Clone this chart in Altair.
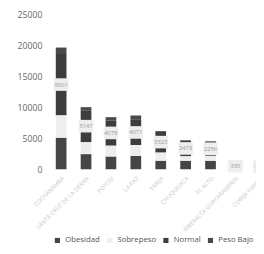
import altair as alt
import pandas as pd

categories = ["COCHABAMBA", "SANTA CRUZ DE LA SIERRA", "POTOSI", "LA PAZ", "TARIJA",
              "CHUQUISACA", "EL ALTO", "RIBERALTA GUAYARAMERIN", "COBIJA PANDO"]
series = ["Obesidad", "Sobrepeso", "Normal", "Peso Bajo"]
obesidad = [5100, 2450, 2070, 2160, 1380, 1380, 1380, 200, 180]
sobrepeso = [3650, 1950, 1770, 1760, 1350, 750, 814, 140, 120]
normal = [9901, 5147, 4078, 4071, 3323, 2478, 2256, 330, 290]
peso_bajo = [1040, 500, 510, 710, 140, 100, 100, 30, 20]
colors = ["#454545", "#eeeeee", "#3d3d3d", "#4a4a4a"]
y_ticks = [0, 5000, 10000, 15000, 20000, 25000]

values = [obesidad, sobrepeso, normal, peso_bajo]
rows = []
for si, s in enumerate(series):
    for ci, c in enumerate(categories):
        rows.append({"cat": c, "serie": s, "ord": si, "v": values[si][ci]})
df = pd.DataFrame(rows)

lab = pd.DataFrame({
    "cat": categories,
    "mid": [o + s + n / 2 for o, s, n in zip(obesidad, sobrepeso, normal)],
    "txt": [str(n) for n in normal],
})

FONT = "Open Sans"
xscale = alt.Scale(domain=categories, range=[0, 231.3], paddingInner=0.57, paddingOuter=0.285)
yscale = alt.Scale(domain=[0, 25000])
xaxis = alt.Axis(title=None, labelAngle=-45, labelAlign="right", labelBaseline="top",
                 labelFontSize=6, labelColor="#c8c8c8", domain=False, ticks=False,
                 labelPadding=6, labelFont=FONT, labelLimit=200)
yaxis = alt.Axis(title=None, values=y_ticks, format="d", labelOverlap=False,
                 grid=False, domain=False, ticks=False, labelFontSize=9,
                 labelColor="#666666", labelPadding=7, labelFont=FONT)

bars = alt.Chart(df).mark_bar().encode(
    x=alt.X("cat:N", scale=xscale, sort=categories, axis=xaxis, title=None),
    y=alt.Y("v:Q", stack="zero", scale=yscale, axis=yaxis, title=None),
    color=alt.Color("serie:N", scale=alt.Scale(domain=series, range=colors),
                    legend=alt.Legend(title=None, orient="none", direction="horizontal",
                                      legendX=5, legendY=229, symbolType="square",
                                      symbolSize=28, labelFontSize=8, labelColor="#555555",
                                      columnPadding=6, labelFont=FONT, symbolStrokeWidth=0)),
    order=alt.Order("ord:Q", sort="ascending"),
)

boxes = alt.Chart(lab).mark_tick(color="#eeeeee", thickness=13, size=15, opacity=1).encode(
    x=alt.X("cat:N", scale=xscale, sort=categories, axis=xaxis, title=None),
    y=alt.Y("mid:Q", scale=yscale, axis=yaxis, title=None),
)

texts = alt.Chart(lab).mark_text(fontSize=6, color="#9a9a9a", font=FONT).encode(
    x=alt.X("cat:N", scale=xscale, sort=categories, axis=xaxis, title=None),
    y=alt.Y("mid:Q", scale=yscale, axis=yaxis, title=None),
    text="txt:N",
)

chart = alt.layer(bars, boxes, texts).properties(
    width=214, height=159.5,
    autosize=alt.AutoSizeParams(type="none"),
    padding={"left": 42, "top": 3, "right": 0, "bottom": 83},
    background="white",
).configure_view(stroke=None, strokeWidth=0)

chart.save("out.html", embed_options={"renderer": "svg", "actions": False})
